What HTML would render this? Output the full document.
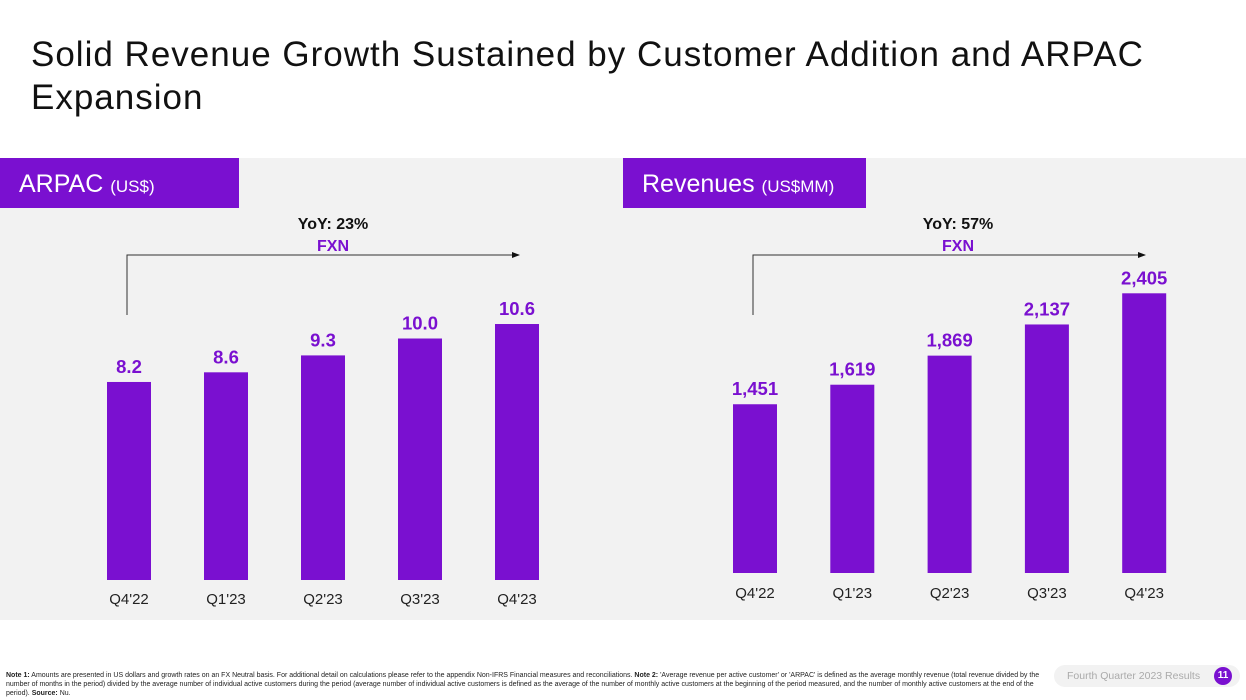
<!DOCTYPE html>
<html><head><meta charset="utf-8">
<style>
body{margin:0;width:1246px;height:700px;background:#fff;font-family:"Liberation Sans",sans-serif;overflow:hidden;position:relative}
.title{position:absolute;left:31px;top:33px;font-size:35px;line-height:43px;color:#111;letter-spacing:1px}
.panel{position:absolute;left:0;top:158px;width:1246px;height:462px;background:#f2f2f2}
.hdr{position:absolute;top:158px;height:50px;background:#7a10d0;color:#fff;font-size:25px;line-height:52px;padding-left:19px;box-sizing:border-box}
.hdr small{font-size:17px}
.note{position:absolute;left:6px;top:671px;width:1045px;font-size:7px;line-height:9px;color:#222}
.foot{position:absolute;left:1054px;top:665px;width:186px;height:22px;background:#f2f2f2;border-radius:11px;font-size:10.5px;color:#aaa;line-height:22px;padding-left:13px;box-sizing:border-box}
.pg{position:absolute;left:1214px;top:667px;width:18px;height:18px;border-radius:9px;background:#7a10d0;color:#fff;font-size:10px;font-weight:bold;text-align:center;line-height:18px}
</style></head><body>
<div class="title">Solid Revenue Growth Sustained by Customer Addition and ARPAC<br>Expansion</div>
<div class="panel"></div>
<div class="hdr" style="left:0;width:239px">ARPAC <small>(US$)</small></div>
<div class="hdr" style="left:623px;width:243px">Revenues <small>(US$MM)</small></div>
<svg id="svg" width="1246" height="700" style="position:absolute;left:0;top:0">
<defs><marker id="ah" markerWidth="8" markerHeight="8" refX="7" refY="4" orient="auto"><path d="M0,1 L8,4 L0,7 Z" fill="#111"/></marker></defs>
</svg>
<div class="note"><b>Note 1:</b> Amounts are presented in US dollars and growth rates on an FX Neutral basis. For additional detail on calculations please refer to the appendix Non-IFRS Financial measures and reconciliations. <b>Note 2:</b> 'Average revenue per active customer' or 'ARPAC' is defined as the average monthly revenue (total revenue divided by the number of months in the period) divided by the average number of individual active customers during the period (average number of individual active customers is defined as the average of the number of monthly active customers at the beginning of the period measured, and the number of monthly active customers at the end of the period). <b>Source:</b> Nu.</div>
<div class="foot">Fourth Quarter 2023 Results</div>
<div class="pg">11</div>
<script>
const categories=["Q4'22","Q1'23","Q2'23","Q3'23","Q4'23"];
const arpacValues=[8.2,8.6,9.3,10.0,10.6];
const arpacLabels=["8.2","8.6","9.3","10.0","10.6"];
const revenueValues=[1451,1619,1869,2137,2405];
const revenueLabels=["1,451","1,619","1,869","2,137","2,405"];
const arpacYoY="YoY: 23%";
const revenueYoY="YoY: 57%";
const svg=document.getElementById('svg');
const NS='http://www.w3.org/2000/svg';
function mk(t,a){const e=document.createElementNS(NS,t);for(const k in a)e.setAttribute(k,a[k]);svg.appendChild(e);return e;}
function chart(key,vals,labels,yoy,x0,step,base,scale,catY,arrowX,arrowEnd,textX){
  const xs=i=>x0+i*step;
  const ys=v=>base-v*scale;
  vals.forEach((v,i)=>{
    const r=mk('rect',{x:xs(i)-22,y:ys(v),width:44,height:base-ys(v),fill:'#7a10d0'});
    
    
    const t=mk('text',{x:xs(i),y:ys(v)-9,'text-anchor':'middle','font-size':18.5,'font-weight':'bold',fill:'#7a10d0'});
    t.textContent=labels[i];
    
    
    const c=mk('text',{x:xs(i),y:catY,'text-anchor':'middle','font-size':15,fill:'#222'});
    c.textContent=categories[i];
    
    
  });
  const p=mk('path',{d:`M${arrowX},315 V255 H${arrowEnd}`,stroke:'#333','stroke-width':1,fill:'none','marker-end':'url(#ah)'});
  
  
  const y=mk('text',{x:textX,y:229,'text-anchor':'middle','font-size':16,'font-weight':'bold',fill:'#111'});
  y.textContent=yoy;
  
  
  const f=mk('text',{x:textX,y:251,'text-anchor':'middle','font-size':16,'font-weight':'bold',fill:'#7a10d0'});
  f.textContent='FXN';
  
  
}
chart('arpac',arpacValues,arpacLabels,arpacYoY,129,97,580,24.15,604,127,519,333);
chart('revenue',revenueValues,revenueLabels,revenueYoY,755,97.3,573,0.1163,598,753,1145,958);
</script>
</body></html>
